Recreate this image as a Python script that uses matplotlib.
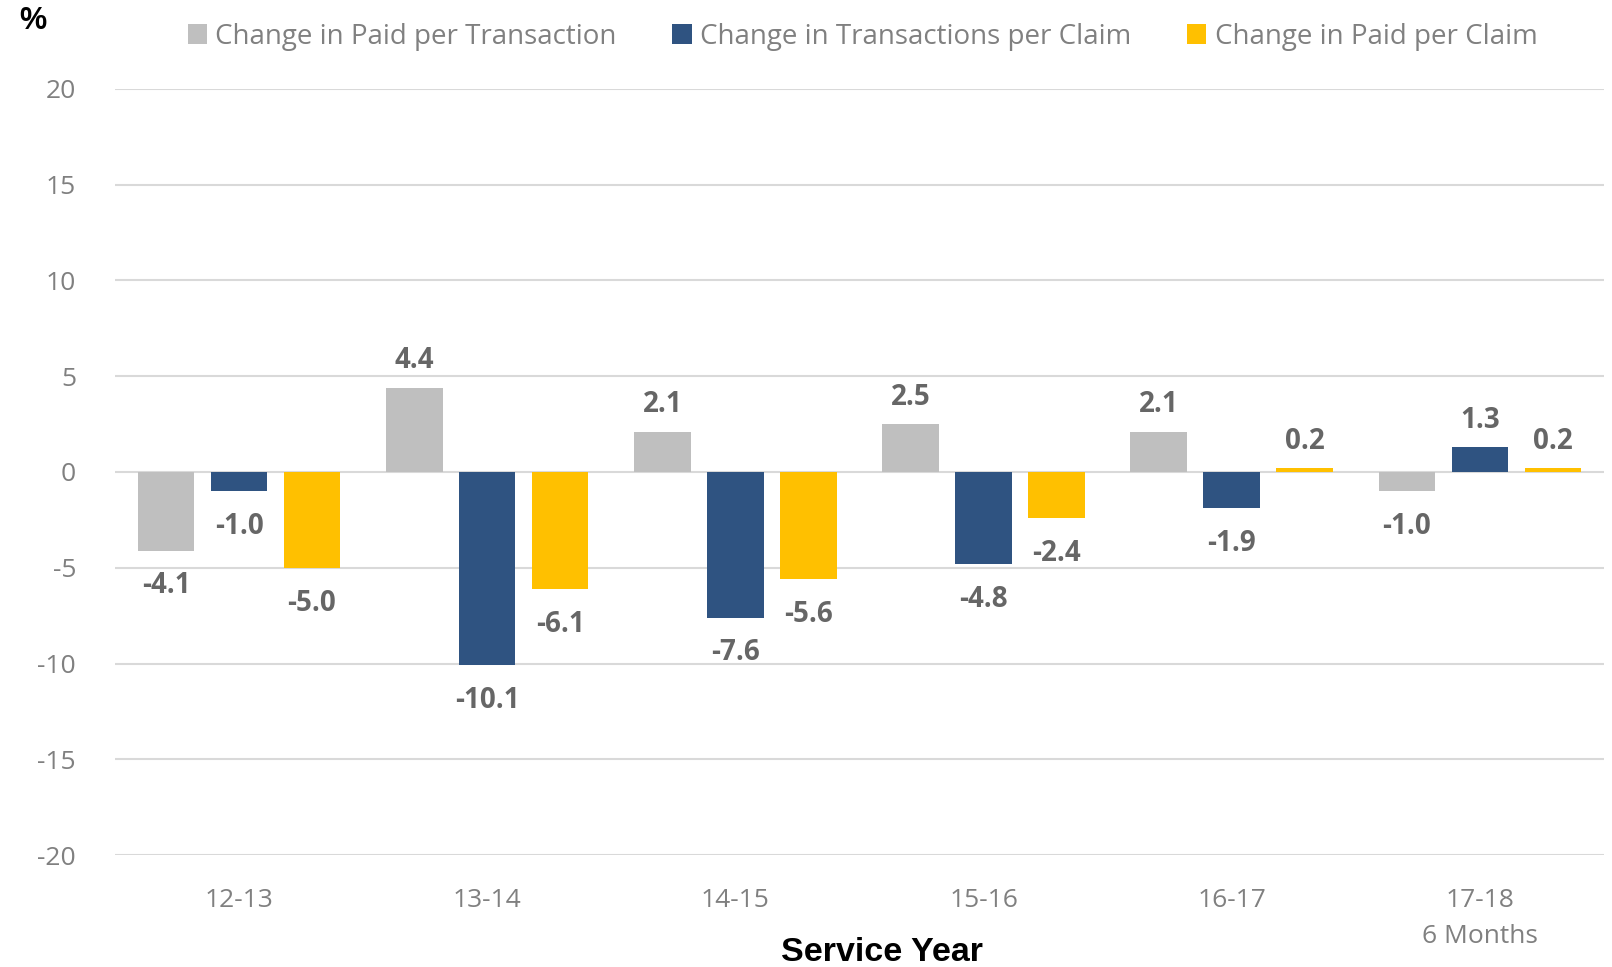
import matplotlib.pyplot as plt
import numpy as np

plt.rcParams['font.family'] = ['Open Sans', 'DejaVu Sans']
plt.rcParams['axes.unicode_minus'] = False

years = ['12-13', '13-14', '14-15', '15-16', '16-17', '17-18\n6 Months']
paid_per_trans = [-4.1, 4.4, 2.1, 2.5, 2.1, -1.0]
trans_per_claim = [-1.0, -10.1, -7.6, -4.8, -1.9, 1.3]
paid_per_claim = [-5.0, -6.1, -5.6, -2.4, 0.2, 0.2]

series = [
    ('Change in Paid per Transaction', paid_per_trans, '#BFBFBF'),
    ('Change in Transactions per Claim', trans_per_claim, '#2F5381'),
    ('Change in Paid per Claim', paid_per_claim, '#FFC000'),
]

fig = plt.figure(figsize=(16.12, 9.67), dpi=100)
ax = fig.add_axes([0.0713, 0.1158, 0.9237, 0.7922])

x = np.arange(len(years))
width = 0.228
step = 0.294
for i, (name, vals, color) in enumerate(series):
    pos = x + (i - 1) * step
    ax.bar(pos, vals, width, color=color, label=name, zorder=3)
    for p, v in zip(pos, vals):
        if v >= 0:
            ax.annotate(f'{v:.1f}', (p, v), xytext=(0, 9), textcoords='offset points',
                        ha='center', va='bottom', fontsize=20, fontweight='bold', color='#666666')
        else:
            ax.annotate(f'{v:.1f}', (p, v), xytext=(0, -15), textcoords='offset points',
                        ha='center', va='top', fontsize=20, fontweight='bold', color='#666666')

ax.set_xlim(-0.5, 5.5)
ax.set_ylim(-20, 20)
ax.set_yticks(range(-20, 21, 5))
ax.set_xticks(x)
ax.set_xticklabels(years, linespacing=1.55)
ax.tick_params(axis='both', length=0, labelsize=19, labelcolor='#808080')
ax.tick_params(axis='x', pad=24)
ax.tick_params(axis='y', pad=28)
ax.grid(axis='y', color='#D9D9D9', linewidth=1.5, zorder=0)
for s in ax.spines.values():
    s.set_visible(False)

fig.text(0.547, 0.015, 'Service Year', fontsize=24.5, fontweight='bold', color='black',
         family='Liberation Sans', ha='center', va='center')

fig.text(0.0205, 0.978, '%', fontsize=22, fontweight='bold', ha='center', va='center',
         family='Liberation Sans')

fig.legend(loc='center', bbox_to_anchor=(0.535, 0.962), ncol=3, frameon=False,
           fontsize=20, labelcolor='#808080', handlelength=0.7, handleheight=0.7,
           handletextpad=0.3, columnspacing=2.0)

fig.savefig('out.png', dpi=100)
